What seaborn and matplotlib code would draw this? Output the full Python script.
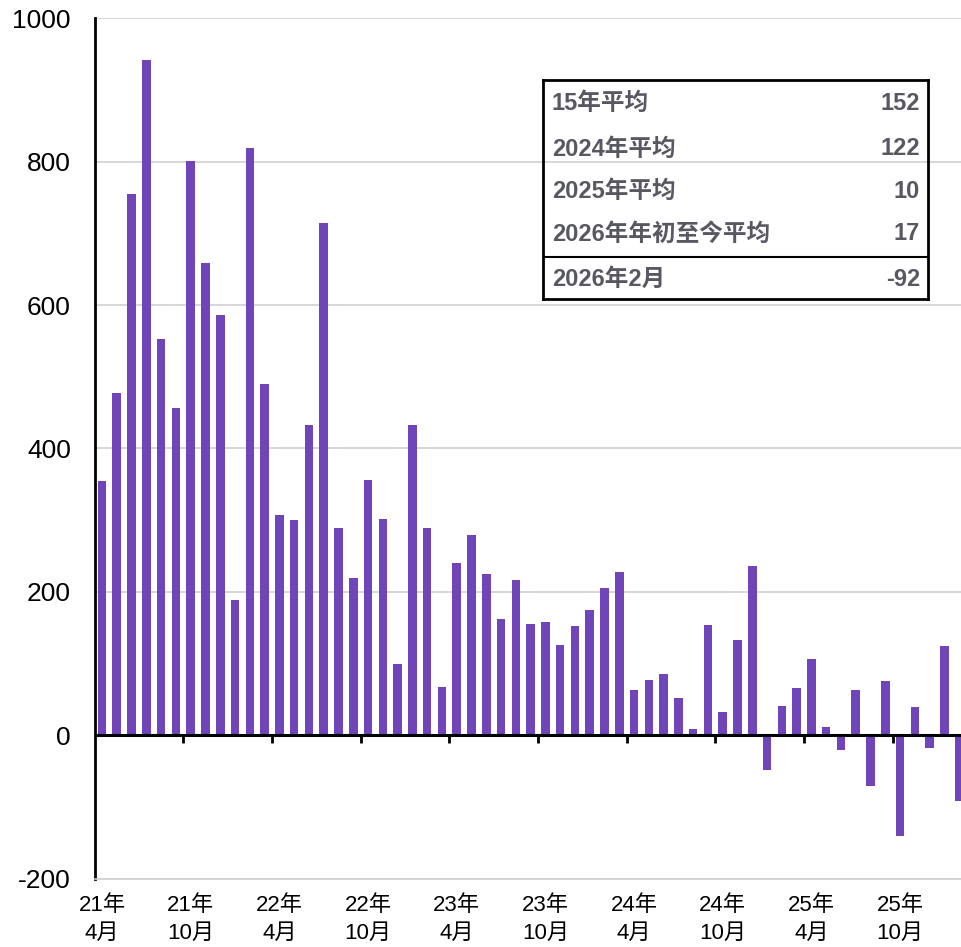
import numpy as np
import pandas as pd
import seaborn as sns
import matplotlib.pyplot as plt


sns.set_theme(style="white")
plt.rcParams['font.family'] = ['Liberation Sans', 'Noto Sans CJK SC', 'DejaVu Sans']
plt.rcParams['axes.unicode_minus'] = False

# monthly values, 2021-04 .. 2026-02
months = pd.period_range('2021-04', '2026-02', freq='M').astype(str).tolist()
values = [354, 477, 755, 942, 552, 457, 801, 658, 586,
          189, 819, 490, 307, 300, 433, 714, 289, 219, 356, 302, 99,
          433, 289, 67, 240, 279, 225, 162, 217, 155, 158, 126, 153,
          174, 205, 227, 63, 77, 86, 52, 8, 154, 32, 133, 236,
          -49, 41, 66, 107, 12, -21, 63, -71, 75, -140, 40, -18,
          125, -92]

tick_labels = ['21年\n4月', '21年\n10月', '22年\n4月', '22年\n10月', '23年\n4月',
               '23年\n10月', '24年\n4月', '24年\n10月', '25年\n4月', '25年\n10月']

summary_names = ['15年平均', '2024年平均', '2025年平均', '2026年年初至今平均', '2026年2月']
summary_values = ['152', '122', '10', '17', '-92']

bar_color = '#6F45B9'
text_grey = '#585862'

df = pd.DataFrame({'month': months, 'value': values})

fig = plt.figure(figsize=(9.61, 9.47), dpi=100)
ax = fig.add_axes([94.6 / 961, 1 - 878.6 / 947, 872 / 961, (878.6 - 18.3) / 947])

sns.barplot(data=df, x='month', y='value', color=bar_color, saturation=1,
            width=0.58, linewidth=0, ax=ax)

ax.set_xlim(-0.5, len(months) - 0.5)
ax.set_ylim(-200, 1000)
ax.set_yticks(np.arange(-200, 1001, 200))
ax.tick_params(axis='y', length=0, pad=17, labelsize=19, labelcolor='black')

ax.set_xticks(np.arange(0, len(months), 6))
ax.set_xticklabels(tick_labels, fontsize=16, linespacing=1.4)
ax.tick_params(axis='x', length=0, pad=12, labelcolor='black')
ax.set_xlabel('')
ax.set_ylabel('')

ax.yaxis.grid(True, color='#D0D0D0', linewidth=1.2)
ax.set_axisbelow(True)

ax.spines['left'].set_color('black')
ax.spines['left'].set_linewidth(2)
ax.spines['bottom'].set_color('#D0D0D0')
ax.spines['bottom'].set_linewidth(1.2)
ax.spines['top'].set_visible(False)
ax.spines['right'].set_visible(False)

# zero line with tick marks between categories
ax.axhline(0, color='black', linewidth=2.2, zorder=5)
zero_ax = ax.secondary_xaxis(0, transform=ax.transData)
zero_ax.set_xticks(np.arange(5.5, len(months) - 1, 6))
zero_ax.set_xticklabels([])
zero_ax.tick_params(axis='x', direction='out', length=5.5, width=2, color='black')
for s in zero_ax.spines.values():
    s.set_visible(False)

# summary box
tax = fig.add_axes([543 / 961, 1 - 299 / 947, 385 / 961, 219 / 947])
tax.set_xlim(0, 1)
tax.set_ylim(0, 1)
tax.set_xticks([])
tax.set_yticks([])
tax.patch.set_alpha(0)
for s in tax.spines.values():
    s.set_color('black')
    s.set_linewidth(2)
tax.axhline(0.193, color='black', linewidth=1.5)

row_y = [0.894, 0.685, 0.490, 0.297, 0.091]
for name, val, y in zip(summary_names, summary_values, row_y):
    tax.text(0.023, y, name, fontsize=17, fontweight='bold', color=text_grey,
             ha='left', va='center')
    tax.text(0.979, y, val, fontsize=17, fontweight='bold', color=text_grey,
             ha='right', va='center')

fig.savefig('out.png', dpi=100)
